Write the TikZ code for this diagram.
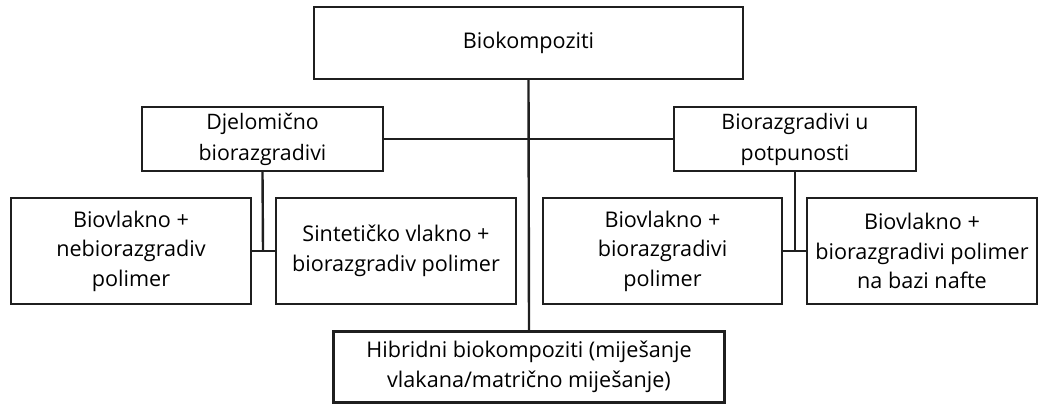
\documentclass[tikz,border=0pt]{standalone}
\usepackage{fontspec}
\setmainfont{Open Sans}
\begin{document}
\begin{tikzpicture}[x=1pt,y=-1pt,
  box/.style={draw=black!88, line width=2.4pt, fill=white, inner sep=0pt, align=center,
    font=\fontsize{21.6}{29.5}\selectfont},
  midbox/.style={box, font=\fontsize{21.3}{31}\selectfont},
  conn/.style={draw=black!88, line width=2.4pt}]
\useasboundingbox (0,0) rectangle (1039,405);
\node[box, minimum width=429, minimum height=72] (top) at (528.5,43) {Biokompoziti};
\node[midbox, minimum width=241, minimum height=64] (dj) at (262.5,139) {Djelomično\\biorazgradivi};
\node[midbox, minimum width=242, minimum height=64] (bu) at (795,139) {Biorazgradivi u\\potpunosti};
\node[box, minimum width=240, minimum height=106] (b1) at (131,251) {Biovlakno +\\nebiorazgradiv\\polimer};
\node[box, minimum width=240, minimum height=106] (b2) at (396,251) {Sintetičko vlakno +\\biorazgradiv polimer};
\node[box, minimum width=239, minimum height=106] (b3) at (662.5,251) {Biovlakno +\\biorazgradivi\\polimer};
\node[box, minimum width=230, minimum height=106] (b4) at (922,251) {Biovlakno +\\biorazgradivi polimer\\na bazi nafte};
\node[box, minimum width=391, minimum height=71] (hy) at (529,367) {Hibridni biokompoziti (miješanje\\vlakana/matrično miješanje)};
\coordinate (jl) at (263,250);
\coordinate (jr) at (795,250);
\draw[conn] (top.south) -- (hy.north);
\draw[conn] (dj.east) -- (bu.west);
\draw[conn] (dj.south) -- (jl);
\draw[conn] (b1.east) -- (b2.west);
\draw[conn] (bu.south) -- (jr);
\draw[conn] (b3.east) -- (b4.west);
\end{tikzpicture}
\end{document}
